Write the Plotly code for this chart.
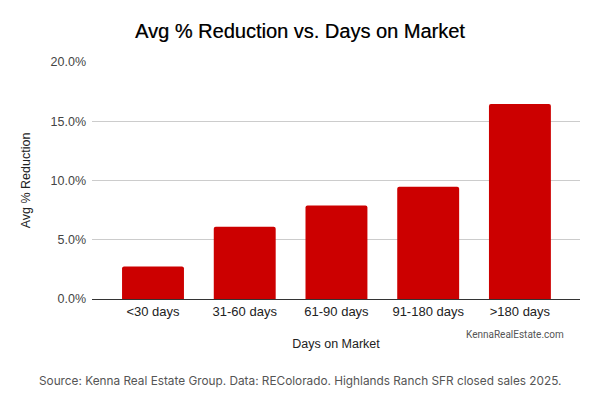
import plotly.graph_objects as go

categories = ["<30 days", "31-60 days", "61-90 days", "91-180 days", ">180 days"]
avg_reduction = [2.74, 6.1, 7.89, 9.48, 16.45]
y_ticks = [0, 5, 10, 15, 20]
y_tick_labels = ["0.0%", "5.0%", "10.0%", "15.0%", "20.0%"]

# the page puts the plot 8px in from the top-left corner, so margins allow for it
fig = go.Figure()
fig.add_trace(go.Bar(
    x=list(range(len(categories))),
    y=avg_reduction,
    width=0.675,
    marker=dict(color="#cc0000", line=dict(width=0), cornerradius=2),
    hovertemplate="%{text}: %{y:.1f}%<extra></extra>",
    text=categories,
    textposition="none",
))

fig.update_layout(
    width=600,
    height=405,
    margin=dict(l=84, r=28, t=54, b=114),
    paper_bgcolor="white",
    plot_bgcolor="white",
    font=dict(family="Arial, Liberation Sans, sans-serif", size=12, color="#222"),
    showlegend=False,
    title=dict(
        text="Avg % Reduction vs. Days on Market",
        x=(300 - 8) / 600, xanchor="center",
        y=1 - 23 / 405, yanchor="middle",
        # no medium face installed, so a faint shadow thickens the regular one
        font=dict(family="Liberation Sans, Arial, sans-serif", size=20, color="#000",
                  shadow="0.4px 0px 0px rgba(0,0,0,0.5)"),
    ),
    xaxis=dict(
        range=[-0.665, 4.655],
        tickmode="array",
        tickvals=list(range(len(categories))),
        ticktext=categories,
        showgrid=False,
        zeroline=False,
        showline=False,
        ticks="",
        ticklabelstandoff=3,
        tickfont=dict(size=13, color="#222"),
        title=dict(text="Days on Market", font=dict(size=12.5, color="#222"), standoff=21),
        fixedrange=True,
    ),
    yaxis=dict(
        range=[0, 20],
        tickmode="array",
        tickvals=y_ticks,
        ticktext=y_tick_labels,
        showgrid=True,
        gridcolor="#cccccc",
        gridwidth=1,
        zeroline=True,
        zerolinecolor="#333333",
        zerolinewidth=1,
        ticks="",
        ticklabelstandoff=5,
        tickfont=dict(size=12.5, color="#444"),
        title=dict(text="Avg % Reduction", font=dict(size=12.5, color="#222"), standoff=17),
        fixedrange=True,
    ),
)

fig.add_annotation(
    text="KennaRealEstate.com",
    xref="paper", yref="paper",
    x=(515 - 92) / 488, y=-(334 - 299) / 237,
    xanchor="center", yanchor="middle",
    showarrow=False,
    font=dict(family="Roboto, Arial, sans-serif", size=10, color="#555"),
)
fig.add_annotation(
    text="Source: Kenna Real Estate Group. Data: REColorado. Highlands Ranch SFR closed sales 2025.",
    xref="paper", yref="paper",
    x=(300 - 92) / 488, y=-(381 - 299) / 237,
    xanchor="center", yanchor="middle",
    showarrow=False,
    font=dict(family="Inter, Roboto, Arial, sans-serif", size=11.8, color="#555"),
)

fig.write_html("out.html")
